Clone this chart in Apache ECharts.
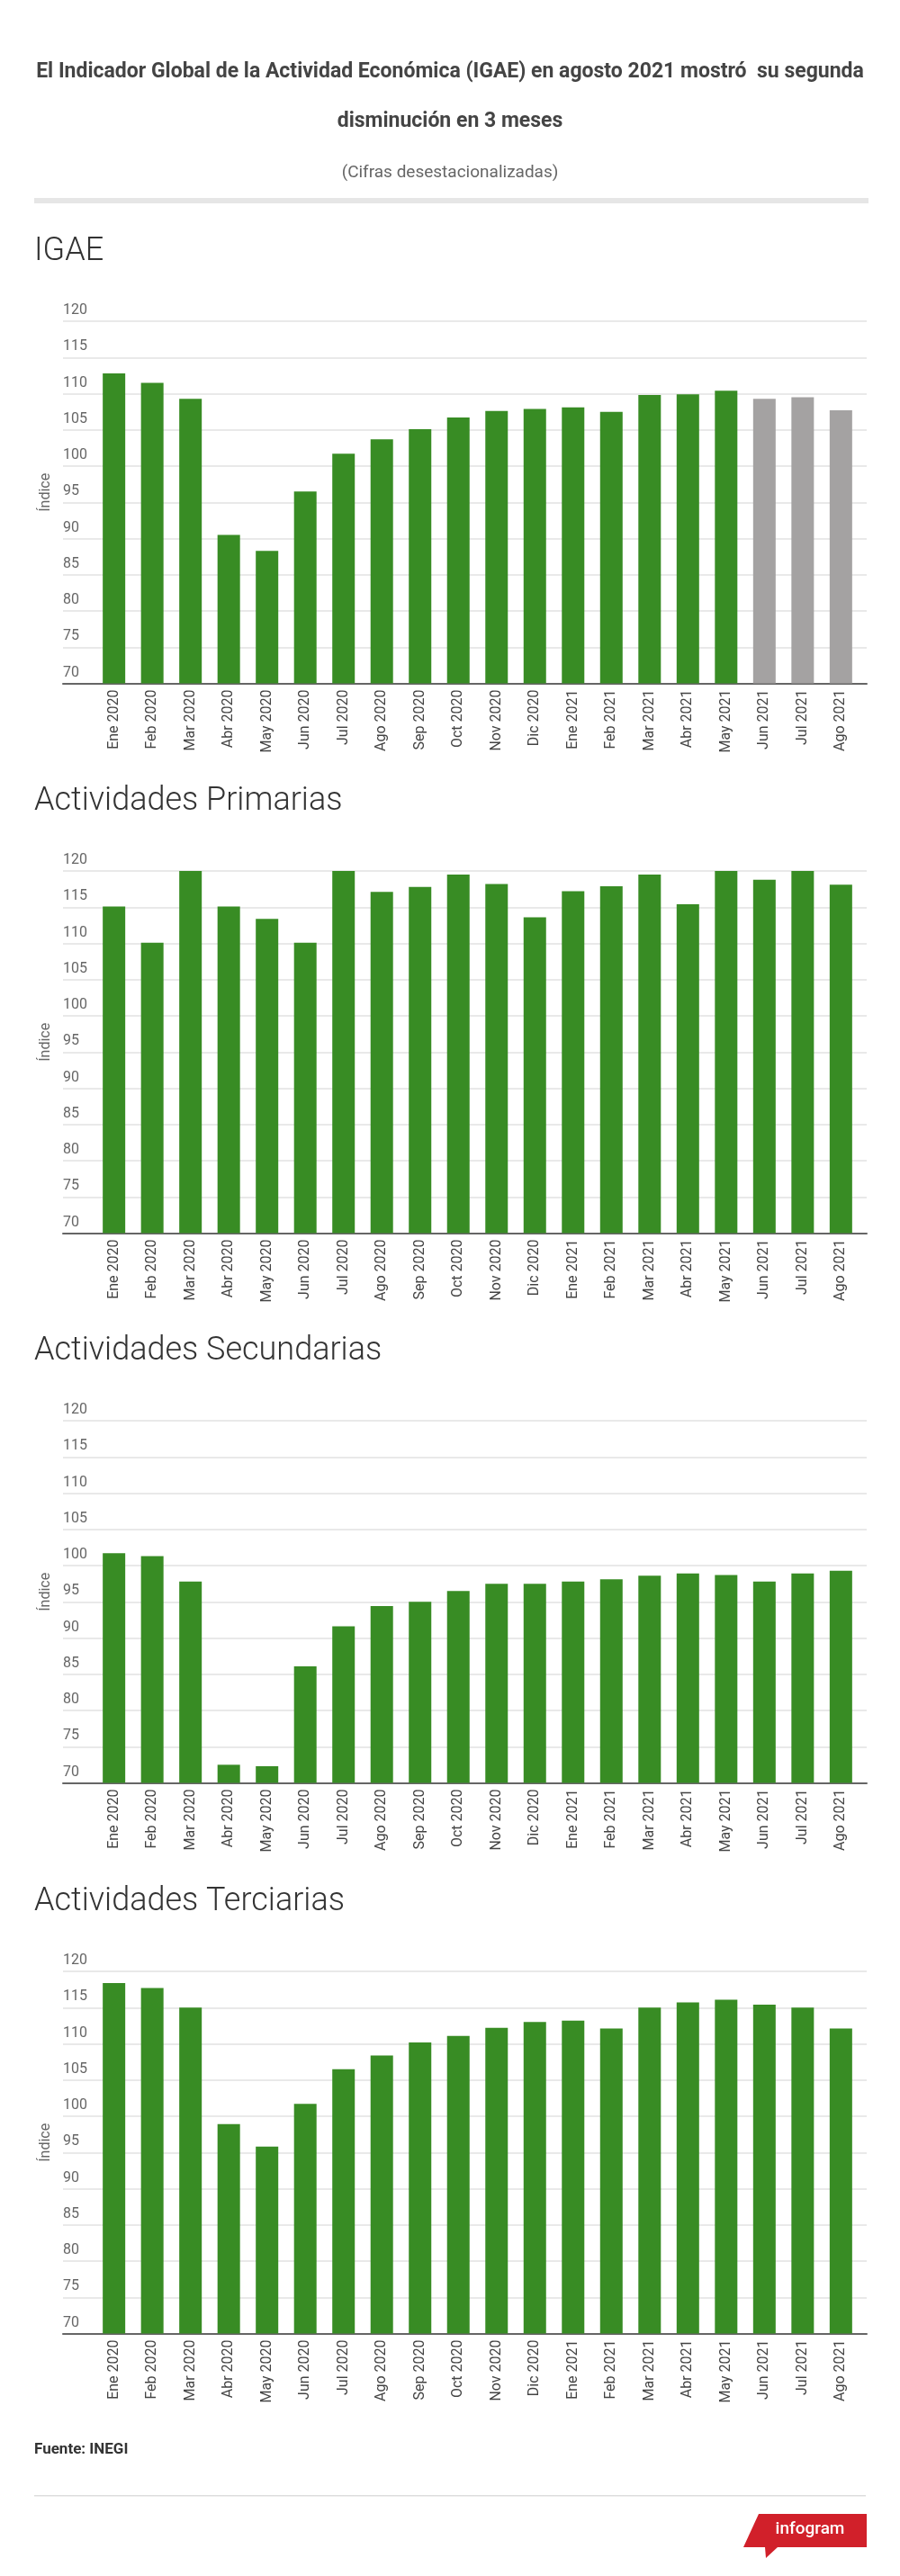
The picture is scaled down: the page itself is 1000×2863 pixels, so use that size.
<!DOCTYPE html>
<html>
<head>
<meta charset="utf-8">
<script src="https://cdn.jsdelivr.net/npm/echarts@6/dist/echarts.min.js"></script>
<style>
  html, body { margin: 0; padding: 0; background: #fff; }
  #chart { width: 1000px; height: 2863px; }
</style>
</head>
<body>
<div id="chart"></div>
<script>
// categorias (meses)
var meses = ["Ene 2020", "Feb 2020", "Mar 2020", "Abr 2020", "May 2020", "Jun 2020",
  "Jul 2020", "Ago 2020", "Sep 2020", "Oct 2020", "Nov 2020", "Dic 2020",
  "Ene 2021", "Feb 2021", "Mar 2021", "Abr 2021", "May 2021", "Jun 2021",
  "Jul 2021", "Ago 2021"];

// indices
var igae = [112.8, 111.5, 109.3, 90.5, 88.3, 96.5, 101.7, 103.7, 105.1, 106.7,
  107.6, 107.9, 108.1, 107.5, 109.8, 109.9, 110.4, 109.3, 109.5, 107.7];
var primarias = [115.1, 110.1, 120.0, 115.1, 113.4, 110.1, 120.0, 117.1, 117.8, 119.5,
  118.2, 113.6, 117.2, 117.9, 119.5, 115.4, 120.0, 118.8, 120.0, 118.1];
var secundarias = [101.7, 101.3, 97.8, 72.5, 72.3, 86.1, 91.6, 94.4, 95.0, 96.5,
  97.5, 97.5, 97.8, 98.1, 98.6, 98.9, 98.7, 97.8, 98.9, 99.3];
var terciarias = [118.4, 117.7, 115.0, 98.9, 95.8, 101.7, 106.5, 108.4, 110.2, 111.1,
  112.2, 113.0, 113.2, 112.1, 115.0, 115.7, 116.1, 115.4, 115.0, 112.1];

// ultimos meses del IGAE en gris (cifras oportunas)
var igaeOportunos = 3;

var paneles = [
  { titulo: "IGAE", datos: igae, gris: igaeOportunos },
  { titulo: "Actividades Primarias", datos: primarias, gris: 0 },
  { titulo: "Actividades Secundarias", datos: secundarias, gris: 0 },
  { titulo: "Actividades Terciarias", datos: terciarias, gris: 0 }
];

var chart = echarts.init(document.getElementById("chart"));

var VERDE = "#388c24",
  GRIS = "#a4a2a2",
  FONT = "Roboto, 'Open Sans', sans-serif";

var tops = [357, 968, 1579, 2191],
  alto = 402.5;

var grids = [], xAxes = [], yAxes = [], series = [], graphics = [];

function texto(t, x, y, font, fill, align) {
  return {
    type: "text",
    x: x,
    y: y,
    silent: true,
    style: {
      text: t,
      font: font,
      fill: fill,
      textAlign: align || "left",
      align: align || "left",
      textVerticalAlign: "middle",
      verticalAlign: "middle"
    }
  };
}

// encabezado
graphics.push(texto("El Indicador Global de la Actividad Económica (IGAE) en agosto 2021 mostró  su segunda",
  500, 80, "bold 23px " + FONT, "#444", "center"));
graphics.push(texto("disminución en 3 meses", 500, 135, "bold 23px " + FONT, "#444", "center"));
graphics.push(texto("(Cifras desestacionalizadas)", 500, 192, "19px " + FONT, "#666", "center"));
graphics.push({
  type: "rect", silent: true,
  shape: { x: 38, y: 220, width: 927, height: 6 },
  style: { fill: "#e6e6e6" }
});

paneles.forEach(function(p, i) {
  var top = tops[i];

  graphics.push(texto(p.titulo, 38, top - 77, "300 36px " + FONT, "#333", "left"));

  // grid de fondo: lineas guia, etiquetas y linea base
  grids.push({ left: 70, width: 893, top: top, height: alto });
  // grid de barras
  grids.push({ left: 105.4, width: 850.2, top: top, height: alto });

  xAxes.push({
    gridIndex: 2 * i,
    type: "category",
    data: [""],
    axisLine: { show: true, lineStyle: { color: "#666", width: 2 } },
    axisTick: { show: false },
    axisLabel: { show: false },
    splitLine: { show: false }
  });
  xAxes.push({
    gridIndex: 2 * i + 1,
    type: "category",
    data: meses,
    axisLine: { show: false },
    axisTick: { show: false },
    axisLabel: {
      interval: 0,
      rotate: 90,
      margin: 7,
      color: "#444",
      fontSize: 16,
      fontFamily: FONT
    }
  });

  yAxes.push({
    gridIndex: 2 * i,
    type: "value",
    min: 70,
    max: 120,
    interval: 5,
    name: "Índice",
    nameLocation: "middle",
    nameRotate: 90,
    nameGap: 10,
    nameTextStyle: { color: "#666", fontSize: 16, fontFamily: FONT, padding: [0, 0, 0, 22] },
    axisLine: { show: false },
    axisTick: { show: false },
    axisLabel: {
      inside: true,
      margin: 0,
      verticalAlign: "bottom",
      padding: [0, 0, 4, 0],
      color: "#666",
      fontSize: 16,
      fontFamily: FONT
    },
    splitLine: { lineStyle: { color: "#e2e2e2", width: 1.5 } }
  });
  yAxes.push({
    gridIndex: 2 * i + 1,
    type: "value",
    min: 70,
    max: 120,
    show: false
  });

  series.push({
    type: "bar",
    xAxisIndex: 2 * i + 1,
    yAxisIndex: 2 * i + 1,
    barWidth: 25,
    data: p.datos,
    itemStyle: {
      color: function(d) {
        return d.dataIndex >= p.datos.length - p.gris ? GRIS : VERDE;
      }
    },
    silent: true
  });
});

// pie
graphics.push(texto("Fuente: INEGI", 38, 2723, "bold 17px " + FONT, "#333", "left"));
graphics.push({
  type: "rect", silent: true,
  shape: { x: 38, y: 2773, width: 924, height: 1.5 },
  style: { fill: "#dddddd" }
});
graphics.push({
  type: "polygon", silent: true,
  shape: { points: [[843, 2794], [963, 2794], [963, 2831], [864, 2831], [851, 2843], [850, 2831], [826, 2831]] },
  style: { fill: "#d1202a" }
});
graphics.push(texto("infogram", 900, 2811, "500 19px " + FONT, "#fff", "center"));

chart.setOption({
  animation: false,
  grid: grids,
  xAxis: xAxes,
  yAxis: yAxes,
  series: series,
  graphic: graphics
});
</script>
</body>
</html>
